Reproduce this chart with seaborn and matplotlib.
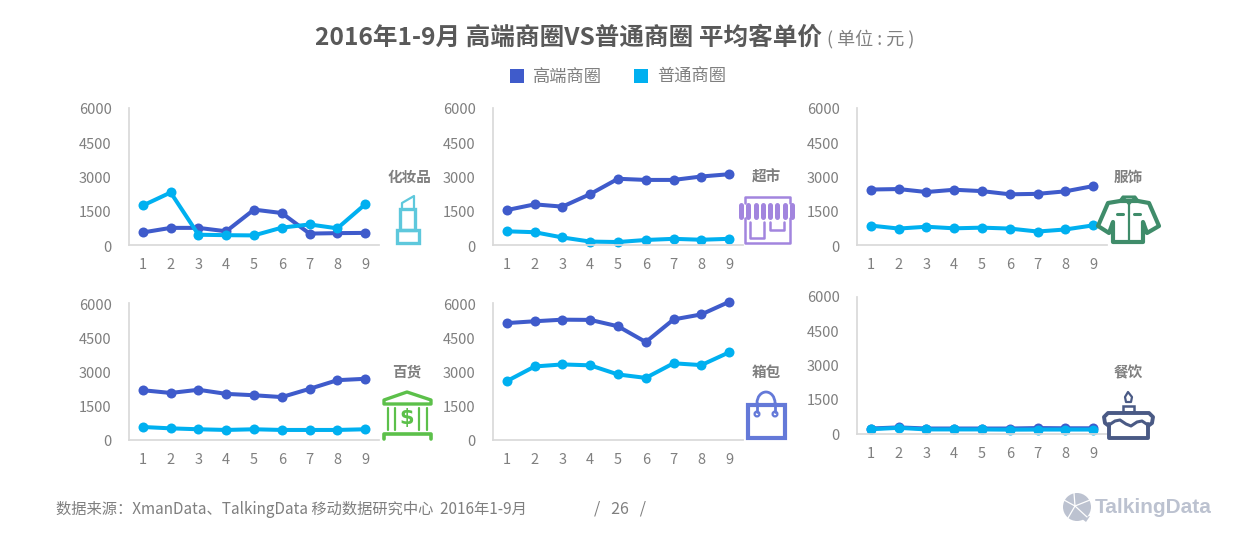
import pandas as pd
import matplotlib
matplotlib.use('Agg')
import matplotlib.pyplot as plt
from matplotlib.lines import Line2D
from matplotlib.patches import Arc, Circle, Polygon, Rectangle
from matplotlib.transforms import ScaledTranslation
import seaborn as sns

months = [1, 2, 3, 4, 5, 6, 7, 8, 9]
y_ticks = [0, 1500, 3000, 4500, 6000]
series_names = ['高端商圈', '普通商圈']

cosmetics_high = [550, 750, 750, 600, 1550, 1400, 500, 520, 530]
cosmetics_low = [1730, 2300, 450, 430, 420, 760, 900, 730, 1780]
market_high = [1530, 1780, 1680, 2230, 2900, 2850, 2850, 3000, 3100]
market_low = [600, 560, 330, 150, 130, 220, 270, 230, 270]
clothes_high = [2430, 2450, 2320, 2420, 2360, 2220, 2240, 2350, 2580]
clothes_low = [850, 720, 800, 730, 760, 720, 590, 680, 860]
store_high = [2180, 2060, 2200, 2020, 1960, 1880, 2240, 2620, 2680]
store_low = [570, 510, 470, 440, 470, 440, 440, 440, 470]
bags_high = [5120, 5200, 5270, 5260, 4980, 4290, 5280, 5500, 6050]
bags_low = [2580, 3220, 3310, 3270, 2870, 2720, 3360, 3280, 3840]
food_high = [240, 290, 240, 240, 240, 240, 260, 250, 250]
food_low = [210, 270, 200, 200, 200, 190, 195, 195, 195]

W, H = 1239, 542
BLUE = '#3F5BCB'
CYAN = '#00B0F0'
GREY = '#7F7F7F'

sns.set_theme(style='white')
plt.rcParams['font.family'] = ['Noto Sans CJK SC', 'DejaVu Sans']

fig = plt.figure(figsize=(W / 100, H / 100), dpi=100)

# name, high, low, left px, top px, bottom px, label x px, label y px
panels = [
    ('化妆品', cosmetics_high, cosmetics_low, 129, 108, 245, 409, 177),
    ('超市', market_high, market_low, 493, 108, 245, 766, 177),
    ('服饰', clothes_high, clothes_low, 857, 108, 245, 1128, 177),
    ('百货', store_high, store_low, 129, 303, 440, 407, 372),
    ('箱包', bags_high, bags_low, 493, 303, 440, 766, 372),
    ('餐饮', food_high, food_low, 857, 297, 434, 1128, 372),
]

for name, high, low, left, top, bottom, lx, ly in panels:
    ax = fig.add_axes([left / W, 1 - bottom / H, 250 / W, (bottom - top) / H])
    df = pd.DataFrame({'month': months * 2,
                       'value': high + low,
                       'group': [series_names[0]] * 9 + [series_names[1]] * 9})
    sns.lineplot(data=df, x='month', y='value', hue='group', hue_order=series_names,
                 palette=[BLUE, CYAN], ax=ax, linewidth=2.9, marker='o', markersize=7.2,
                 markeredgewidth=0, legend=False, clip_on=False)
    ax.set_xlim(0.5, 9.5)
    ax.set_ylim(0, 6000)
    ax.set_xticks(months)
    ax.set_yticks(y_ticks)
    ax.set_xlabel('')
    ax.set_ylabel('')
    ax.patch.set_alpha(0)
    ax.tick_params(length=0, labelsize=10.5, labelcolor=GREY)
    ax.tick_params(axis='x', pad=9.5)
    ax.tick_params(axis='y', pad=12.5)
    # nudge the y labels down one pixel, the last panel sits a pixel lower already
    if name != '餐饮':
        for lab in ax.get_yticklabels():
            lab.set_transform(lab.get_transform() + ScaledTranslation(0, -1 / 100, fig.dpi_scale_trans))
    sns.despine(ax=ax)
    ax.spines['left'].set_color('#D9D9D9')
    ax.spines['bottom'].set_color('#D9D9D9')
    fig.text(lx / W, 1 - ly / H, name, ha='center', va='center', fontsize=10.5,
             fontweight='bold', color=GREY)

# Overlay in pixel coordinates for icons and footer decoration
deco = fig.add_axes([0, 0, 1, 1], zorder=5)
deco.set_xlim(0, W)
deco.set_ylim(H, 0)
deco.axis('off')


def outline(points, color, lw=2.2, closed=False):
    if closed:
        deco.add_patch(Polygon(points, closed=True, fill=False, ec=color, lw=lw, joinstyle='round'))
    else:
        deco.plot([p[0] for p in points], [p[1] for p in points], color=color, lw=lw,
                  solid_capstyle='round', solid_joinstyle='round')


def box(x0, y0, x1, y1, color, lw=2.2):
    deco.add_patch(Rectangle((x0, y0), x1 - x0, y1 - y0, fill=False, ec=color, lw=lw))


# lipstick
c = '#5EC8DC'
box(397, 230, 419, 243, c, 2.4)
box(400, 209, 415, 230, c, 2.4)
outline([(402, 208), (402, 203), (414, 196), (414, 208)], c, 1.6)

# supermarket
c = '#A285DE'
outline([(745, 203), (745, 197), (790, 197), (790, 203)], c, 1.8)
outline([(745, 218), (745, 243), (790, 243), (790, 218)], c, 1.8)
for sx in [741, 748, 756, 763, 770, 777, 785, 792]:
    outline([(sx, 205), (sx, 217)], c, 3.6)
outline([(750, 222), (750, 238), (764, 238), (764, 222)], c, 1.8)
outline([(770, 222), (770, 230), (784, 230), (784, 222)], c, 1.8)

# jacket
c = '#3F8C6A'
outline([(1120, 201), (1138, 201), (1149, 203), (1159, 226), (1147, 233), (1143, 222),
         (1143, 242), (1113, 242), (1113, 222), (1109, 233), (1098, 226), (1108, 203)],
        c, 3, closed=True)
outline([(1120, 201), (1123, 197), (1135, 197), (1138, 201)], c, 2.2)
outline([(1123, 197), (1129, 204), (1135, 197)], c, 1.8)
outline([(1129, 204), (1129, 242)], c, 1.6)
outline([(1117, 214), (1123, 214)], c, 2.2)
outline([(1134, 214), (1140, 214)], c, 2.2)

# bank
c = '#5CC04A'
outline([(384, 404), (384, 400), (407, 392), (431, 400), (431, 404)], c, 2.4, closed=True)
for cx in [388, 395, 419, 427]:
    outline([(cx, 408), (cx, 430)], c, 1.6)
deco.text(407, 418, '$', ha='center', va='center', fontsize=15, color=c, fontweight='bold',
          family='DejaVu Sans')
outline([(384, 439), (384, 434), (431, 434), (431, 439)], c, 2.6)

# bag
c = '#6479D8'
box(748, 405, 785, 438, c, 3)
deco.add_patch(Arc((766, 403), 18, 22, theta1=180, theta2=360, ec=c, lw=2))
outline([(757, 403), (757, 412)], c, 2)
outline([(775, 403), (775, 412)], c, 2)
deco.add_patch(Circle((757, 414), 2.4, fc='white', ec=c, lw=1.6))
deco.add_patch(Circle((775, 414), 2.4, fc='white', ec=c, lw=1.6))

# cake
c = '#4A5A85'
outline([(1109, 426), (1105, 423), (1104, 417), (1108, 413), (1149, 413), (1153, 417),
         (1152, 423), (1148, 426)], c, 2.8)
outline([(1109, 424), (1109, 438), (1148, 438), (1148, 424)], c, 2.8)
outline([(1109, 425), (1115, 421), (1120, 420), (1126, 424), (1131, 426), (1137, 422),
         (1142, 421), (1148, 425)], c, 2.2)
box(1123, 406, 1134, 412, c, 1.8)
outline([(1128, 392), (1132, 397), (1131, 402), (1126, 402), (1125, 397)], c, 1.6, closed=True)

# logo
c = '#BCC2D0'
deco.add_patch(Circle((1077, 507), 14, fc=c, ec='none'))
deco.add_patch(Polygon([(1081, 518), (1090, 516), (1086, 522)], fc=c, ec='none'))
for ex, ey in [(1064, 500), (1074, 493), (1090, 500), (1087, 517), (1068, 518)]:
    outline([(1075, 506), (ex, ey)], 'white', 0.9)
deco.text(1095, 507.5, 'TalkingData', ha='left', va='center', fontsize=15, fontweight='bold',
          color=c, family='Liberation Sans')

# title and legend
deco.text(315, 38, '2016年1-9月 高端商圈VS普通商圈 平均客单价', ha='left', va='center',
          fontsize=17.7, fontweight='bold', color='#595959')
deco.text(827, 39, '( 单位 : 元 )', ha='left', va='center', fontsize=13, color=GREY)

handles = [Line2D([], [], ls='none', marker='s', ms=10.5, mew=0, color=col)
           for col in (BLUE, CYAN)]
fig.legend(handles, series_names, loc='center', bbox_to_anchor=(617 / W, 1 - 77 / H), ncol=2,
           frameon=False, fontsize=12.4, labelcolor=GREY, handlelength=1, handletextpad=0.45,
           columnspacing=1.75)

# footer
deco.text(56, 509, '数据来源：XmanData、TalkingData 移动数据研究中心  2016年1-9月', ha='left',
          va='center', fontsize=11, color=GREY)
deco.text(620, 509, '/   26   /', ha='center', va='center', fontsize=11.5, color=GREY)

fig.savefig('out.png', dpi=100)
